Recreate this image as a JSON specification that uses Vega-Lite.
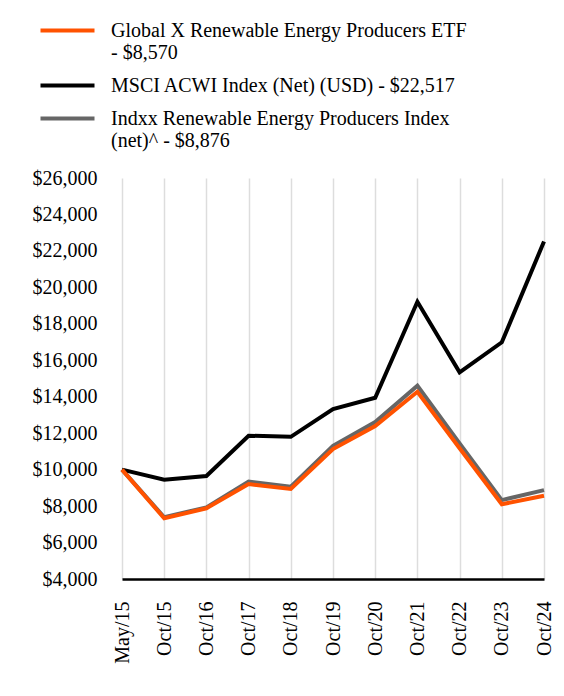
{
  "$schema": "https://vega.github.io/schema/vega-lite/v6.json",
  "width": 422,
  "height": 401,
  "autosize": {"type": "none"},
  "padding": {"left": 122, "top": 178, "right": 20, "bottom": 117},
  "background": "white",
  "config": {
    "font": "Liberation Serif",
    "view": {"stroke": null},
    "legend": {"labelFont": "Liberation Serif"}
  },
  "data": {
    "values": [
      {"date": "May/15", "series": "Indxx", "value": 10000},
      {"date": "Oct/15", "series": "Indxx", "value": 7390},
      {"date": "Oct/16", "series": "Indxx", "value": 7930},
      {"date": "Oct/17", "series": "Indxx", "value": 9340},
      {"date": "Oct/18", "series": "Indxx", "value": 9060},
      {"date": "Oct/19", "series": "Indxx", "value": 11310},
      {"date": "Oct/20", "series": "Indxx", "value": 12610},
      {"date": "Oct/21", "series": "Indxx", "value": 14600},
      {"date": "Oct/22", "series": "Indxx", "value": 11440},
      {"date": "Oct/23", "series": "Indxx", "value": 8330},
      {"date": "Oct/24", "series": "Indxx", "value": 8876},
      {"date": "May/15", "series": "MSCI", "value": 10000},
      {"date": "Oct/15", "series": "MSCI", "value": 9450},
      {"date": "Oct/16", "series": "MSCI", "value": 9650},
      {"date": "Oct/17", "series": "MSCI", "value": 11860},
      {"date": "Oct/18", "series": "MSCI", "value": 11800},
      {"date": "Oct/19", "series": "MSCI", "value": 13325},
      {"date": "Oct/20", "series": "MSCI", "value": 13945},
      {"date": "Oct/21", "series": "MSCI", "value": 19210},
      {"date": "Oct/22", "series": "MSCI", "value": 15340},
      {"date": "Oct/23", "series": "MSCI", "value": 16985},
      {"date": "Oct/24", "series": "MSCI", "value": 22517},
      {"date": "May/15", "series": "ETF", "value": 10000},
      {"date": "Oct/15", "series": "ETF", "value": 7330},
      {"date": "Oct/16", "series": "ETF", "value": 7880},
      {"date": "Oct/17", "series": "ETF", "value": 9210},
      {"date": "Oct/18", "series": "ETF", "value": 8940},
      {"date": "Oct/19", "series": "ETF", "value": 11130},
      {"date": "Oct/20", "series": "ETF", "value": 12390},
      {"date": "Oct/21", "series": "ETF", "value": 14270},
      {"date": "Oct/22", "series": "ETF", "value": 11170},
      {"date": "Oct/23", "series": "ETF", "value": 8100},
      {"date": "Oct/24", "series": "ETF", "value": 8570}
    ]
  },
  "mark": {"type": "line", "strokeWidth": 4, "strokeJoin": "miter"},
  "encoding": {
    "x": {
      "field": "date",
      "type": "ordinal",
      "sort": null,
      "scale": {"type": "point", "padding": 0},
      "axis": {
        "title": null,
        "labelAngle": -90,
        "labelAlign": "right",
        "labelBaseline": "middle",
        "labelFont": "Liberation Serif",
        "labelFontSize": 20,
        "labelColor": "#000000",
        "labelPadding": 22,
        "ticks": false,
        "domain": true,
        "domainColor": "#000000",
        "domainWidth": 2.5,
        "grid": true,
        "gridColor": "#dddddd",
        "gridWidth": 1.5
      }
    },
    "y": {
      "field": "value",
      "type": "quantitative",
      "scale": {"domain": [4000, 26000], "nice": false, "zero": false},
      "axis": {
        "title": null,
        "values": [4000, 6000, 8000, 10000, 12000, 14000, 16000, 18000, 20000, 22000, 24000, 26000],
        "format": "$,.0f",
        "labelFont": "Liberation Serif",
        "labelFontSize": 20,
        "labelColor": "#000000",
        "labelPadding": 25,
        "ticks": false,
        "domain": false,
        "grid": false
      }
    },
    "color": {
      "field": "series",
      "type": "nominal",
      "scale": {
        "domain": ["ETF", "MSCI", "Indxx"],
        "range": ["#FF5200", "#000000", "#666666"]
      },
      "legend": {
        "title": null,
        "orient": "none",
        "legendX": -70,
        "legendY": -163,
        "direction": "vertical",
        "symbolType": "M-2,0H2",
        "symbolSize": 729,
        "symbolStrokeWidth": 4,
        "labelFont": "Liberation Serif",
        "labelFontSize": 20,
        "labelColor": "#000000",
        "labelOffset": 28,
        "labelLimit": 500,
        "labelBaseline": "middle",
        "rowPadding": 7,
        "labelExpr": "datum.value == 'ETF' ? ['Global X Renewable Energy Producers ETF', '- $8,570'] : datum.value == 'MSCI' ? 'MSCI ACWI Index (Net) (USD) - $22,517' : ['Indxx Renewable Energy Producers Index', '(net)^ - $8,876']"
      }
    }
  }
}
